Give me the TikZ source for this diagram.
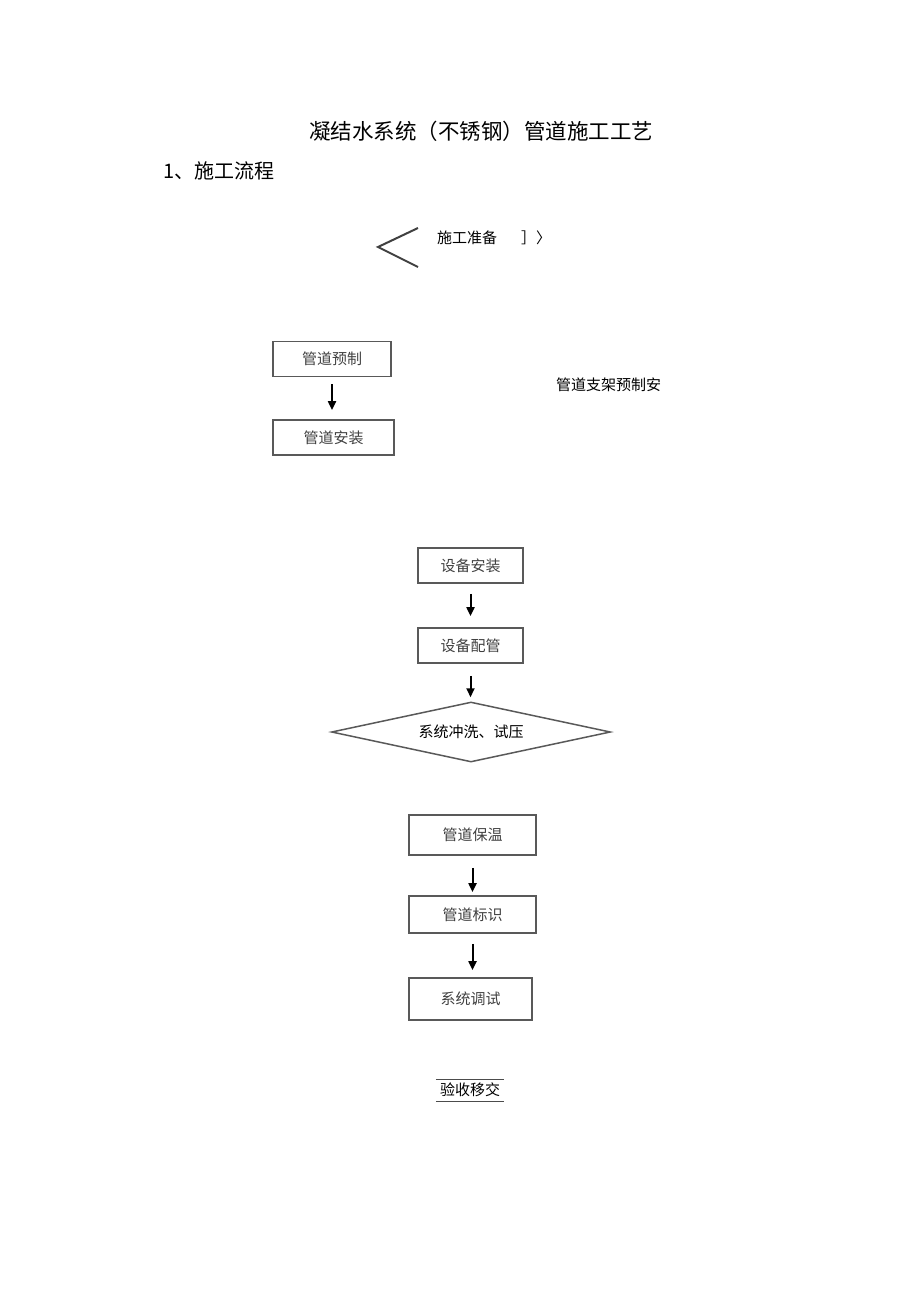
\documentclass[tikz,border=0pt]{standalone}
\usepackage{fontspec}
\newfontfamily\cjk{Noto Sans CJK SC}
\usetikzlibrary{arrows.meta,shapes.geometric,calc}
\tikzset{
  box/.style={draw=black!65, line width=1.8pt, minimum height=35pt, inner sep=0pt, font=\cjk\fontsize{15}{15}\selectfont, text=black!75},
  arr/.style={line width=2pt, -{Triangle[length=9pt,width=8pt]}},
  plain/.style={font=\cjk\fontsize{15}{15}\selectfont, inner sep=0pt}
}
\begin{document}
\begin{tikzpicture}[x=1pt,y=-1pt]
\useasboundingbox (0,0) rectangle (920,1301);
\node[font=\cjk\fontsize{21.5}{21.5}\selectfont, inner sep=0pt] (title) at (481,131) {凝结水系统（不锈钢）管道施工工艺};
\node[font=\cjk\fontsize{20}{20}\selectfont, inner sep=0pt, anchor=west] (sec) at (163,171) {1、施工流程};
% chevron
\coordinate (c1) at (418,228);
\coordinate (c2) at (378,247);
\coordinate (c3) at (418,267);
\draw[line width=2pt, black!75] (c1) -- (c2) -- (c3);
\node[plain, anchor=west] (prep) at (437,238) {施工准备};
\node[plain, anchor=west] (brk) at (521,238) {］〉};
% left column
\node[box, minimum width=118pt] (yz) at (332,359) {管道预制};
\node[box, minimum width=121pt] (az) at (333.5,437.5) {管道安装};
\draw[arr] ($(yz.south)+(0,7)$) -- ($(az.north -| yz.south)+(0,-9)$);
\node[plain, anchor=west] (zj) at (556,385) {管道支架预制安};
% middle
\node[box, minimum width=105pt] (sbaz) at (470.5,565.5) {设备安装};
\node[box, minimum width=105pt] (sbpg) at (470.5,645.5) {设备配管};
\node[draw=black!65, line width=1.5pt, diamond, aspect=4.65, minimum width=279pt, minimum height=60pt, inner sep=0pt, font=\cjk\fontsize{15}{15}\selectfont] (cx) at (471,732) {系统冲洗、试压};
\draw[arr] ($(sbaz.south)+(0,10)$) -- ($(sbpg.north)+(0,-11)$);
\draw[arr] ($(sbpg.south)+(0,12)$) -- ($(cx.north -| sbpg.south)+(0,-4)$);
\node[box, minimum width=127pt, minimum height=40pt] (bw) at (472.5,835) {管道保温};
\node[box, minimum width=127pt, minimum height=37pt] (bs) at (472.5,914.5) {管道标识};
\node[box, minimum width=123pt, minimum height=42pt] (ts) at (470.5,999) {系统调试};
\draw[arr] ($(bw.south)+(0,12)$) -- ($(bs.north)+(0,-3)$);
\draw[arr] ($(bs.south)+(0,10)$) -- ($(ts.north -| bs.south)+(0,-7)$);
\node[plain] (ys) at (470,1090) {验收移交};
\draw[line width=1pt, black!70] ($(ys.north west)+(-4,-3)$) -- ($(ys.north east)+(4,-3)$);
\draw[line width=1pt, black!70] ($(ys.south west)+(-4,4)$) -- ($(ys.south east)+(4,4)$);
\end{tikzpicture}
\end{document}
